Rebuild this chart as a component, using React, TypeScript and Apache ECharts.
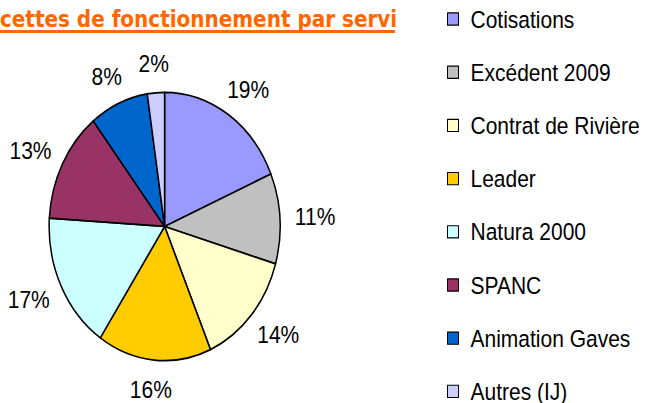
import React, { useEffect, useRef } from "react";
import * as echarts from "echarts";

const titleText = "Recettes de fonctionnement par service";
const categories = [
  "Cotisations",
  "Excédent 2009",
  "Contrat de Rivière",
  "Leader",
  "Natura 2000",
  "SPANC",
  "Animation Gaves",
  "Autres (IJ)",
];
const shares = [18.6, 10.9, 14.0, 15.9, 16.6, 13.4, 8.2, 2.4];
const colors = ["#9999FF", "#C0C0C0", "#FFFFCC", "#FFCC00", "#CCFFFF", "#993366", "#0066CC", "#CCCCFF"];

const W = 647;
const H = 347;
const STRETCH = 403 / H;
const CX = 164.6;
const CY = 195;
const R = 115.5;

export default function App() {
  const ref = useRef<HTMLDivElement>(null);
  useEffect(() => {
    if (!ref.current) return;
    const chart = echarts.init(ref.current, undefined, { renderer: "svg" });
    const total = shares.reduce((a, b) => a + b, 0);
    const option: any = {
      animation: false,
      backgroundColor: "#ffffff",
      title: {
        text: titleText,
        left: -29,
        top: 6,
        padding: 0,
        textStyle: {
          fontFamily: "DejaVu Sans",
          fontWeight: "bold",
          fontSize: 20,
          color: "#FF6600",
          width: 428,
          overflow: "truncate",
          ellipsis: "",
        },
      },
      graphic: [
        {
          type: "line",
          shape: { x1: 0, y1: 27.2, x2: 395, y2: 27.2 },
          style: { stroke: "#FF6600", lineWidth: 2.6 },
          silent: true,
        },
      ],
      legend: {
        orient: "vertical",
        left: 447,
        top: 5.4,
        height: 420,
        padding: 0,
        itemGap: 23.8,
        itemWidth: 11,
        itemHeight: 10.5,
        icon: "rect",
        itemStyle: { borderColor: "#000", borderWidth: 1 },
        textStyle: {
          fontFamily: "Liberation Sans, Arial, sans-serif",
          fontSize: 21,
          lineHeight: 22,
          color: "#000",
          padding: [0, 0, 0, 7],
        },
        data: categories,
      },
      series: [
        {
          type: "pie",
          center: [CX, CY],
          radius: R,
          startAngle: 90,
          clockwise: true,
          avoidLabelOverlap: false,
          itemStyle: { borderColor: "#000", borderWidth: 1.5 },
          emphasis: { disabled: true },
          label: {
            show: true,
            position: "outside",
            fontFamily: "Liberation Sans, Arial, sans-serif",
            fontSize: 21,
            color: "#000",
            formatter: (p: any) => Math.round(p.percent) + "%",
          },
          labelLine: { show: false },
          labelLayout: (params: any) => {
            const i = params.dataIndex;
            let before = 0;
            for (let k = 0; k < i; k++) before += shares[k];
            const frac = (before + shares[i] / 2) / total;
            const ang = ((90 - frac * 360) * Math.PI) / 180;
            const ux = Math.cos(ang);
            const uy = -Math.sin(ang);
            const hw = params.labelRect.width / 2;
            const hh = params.labelRect.height / 2;
            const g = 14;
            return {
              x: CX + (R + 1 + g) * ux + hw * ux,
              y: CY + (R + 1 + g) * uy + hh * uy,
              align: "center",
              verticalAlign: "middle",
            };
          },
          data: categories.map((name, i) => ({
            name,
            value: shares[i],
            itemStyle: { color: colors[i] },
          })),
        },
      ],
    };
    chart.setOption(option);
    return () => chart.dispose();
  }, []);
  return (
    <div
      ref={ref}
      style={{
        position: "fixed",
        left: 0,
        top: 0,
        width: W,
        height: H,
        transform: `scaleY(${STRETCH})`,
        transformOrigin: "0 0",
      }}
    />
  );
}
